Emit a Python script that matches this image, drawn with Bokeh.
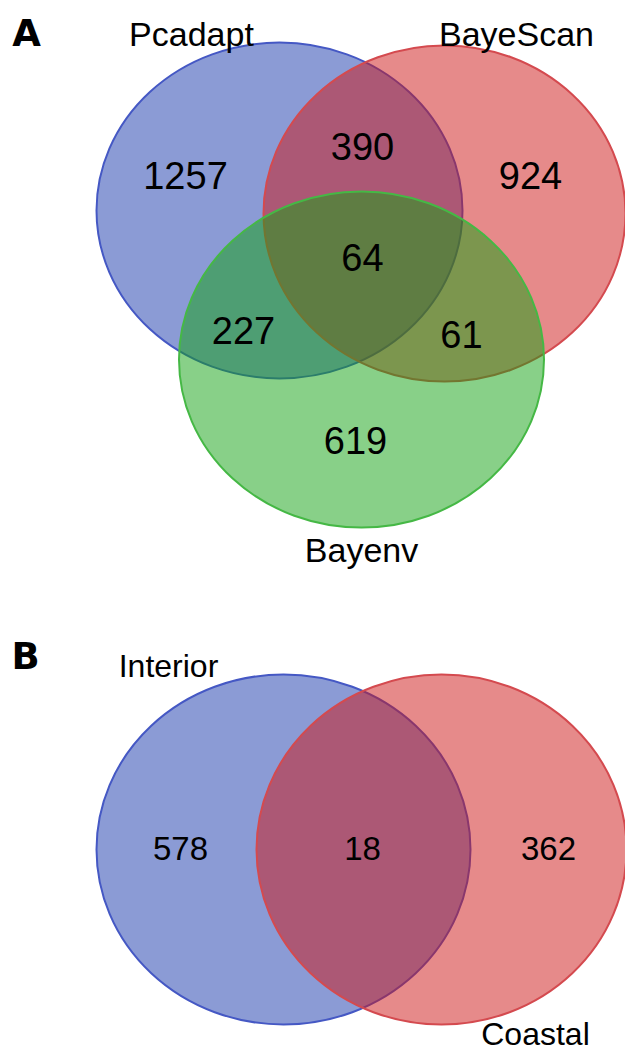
from bokeh.plotting import figure
from bokeh.models import Range1d, ColumnDataSource
from bokeh.core.properties import value
from bokeh.embed import file_html
from bokeh.resources import INLINE

# ---------------- data ----------------
a_sets = ["Pcadapt", "BayeScan", "Bayenv"]
# regions: only P, only B, only E, P&B, P&E, B&E, all
a_region_names = ["Pcadapt only", "BayeScan only", "Bayenv only",
                  "Pcadapt&BayeScan", "Pcadapt&Bayenv", "BayeScan&Bayenv", "all"]
a_counts = [1257, 924, 619, 390, 227, 61, 64]

b_sets = ["Interior", "Coastal"]
b_region_names = ["Interior only", "Interior&Coastal", "Coastal only"]
b_counts = [578, 18, 362]

# ---------------- layout (reference pixel space) ----------------
a_cx = [279, 444, 361]
a_cy = [210, 213, 359]
a_w = [366, 362, 365]
a_h = [336, 336, 336]
a_fill = ["#1737AB", "#CD1515", "#11A111"]
a_line = ["#4558C4", "#D44A4F", "#45B845"]
a_lab_x = [191, 516, 361]
a_lab_y = [33, 33, 549]
a_num_x = [185, 530, 355, 362, 243, 461, 362]
a_num_y = [175, 175, 440, 146, 330, 334, 257]

b_cx = [283, 441]
b_cy = [849, 849]
b_w = [374, 370]
b_h = [350, 350]
b_fill = ["#1737AB", "#CD1515"]
b_line = ["#4558C4", "#D44A4F"]
b_lab_x = [168, 535]
b_lab_y = [665, 1033]
b_num_x = [180, 362, 548]
b_num_y = [848, 848, 848]

W, H = 625, 1051
p = figure(width=W, height=H, output_backend="svg", toolbar_location=None,
           x_range=Range1d(0, W), y_range=Range1d(H, 0),
           min_border=0, outline_line_color=None)
p.axis.visible = False
p.grid.visible = False
p.background_fill_color = "white"

src_a = ColumnDataSource(dict(x=a_cx, y=a_cy, w=a_w, h=a_h, fill=a_fill, line=a_line, name=a_sets))
p.ellipse(x="x", y="y", width="w", height="h", source=src_a,
          fill_color="fill", fill_alpha=0.5, line_color="line", line_width=2)

src_b = ColumnDataSource(dict(x=b_cx, y=b_cy, w=b_w, h=b_h, fill=b_fill, line=b_line, name=b_sets))
p.ellipse(x="x", y="y", width="w", height="h", source=src_b,
          fill_color="fill", fill_alpha=0.5, line_color="line", line_width=2)

font = value("Liberation Sans")

p.text(x=a_num_x, y=a_num_y, text=[str(c) for c in a_counts],
       text_font=font, text_font_size="38px", text_align="center",
       text_baseline="middle", text_color="black")
p.text(x=a_lab_x, y=a_lab_y, text=a_sets,
       text_font=font, text_font_size="34px", text_align="center",
       text_baseline="middle", text_color="black")

p.text(x=b_num_x, y=b_num_y, text=[str(c) for c in b_counts],
       text_font=font, text_font_size="33px", text_align="center",
       text_baseline="middle", text_color="black")
p.text(x=b_lab_x, y=b_lab_y, text=b_sets,
       text_font=font, text_font_size="32px", text_align="center",
       text_baseline="middle", text_color="black")

p.text(x=[26, 25], y=[33, 656], text=["A", "B"],
       text_font=value("DejaVu Sans"), text_font_style="bold",
       text_font_size="37px", text_align="center",
       text_baseline="middle", text_color="black")

open("out.html", "w").write(file_html(p, INLINE))
